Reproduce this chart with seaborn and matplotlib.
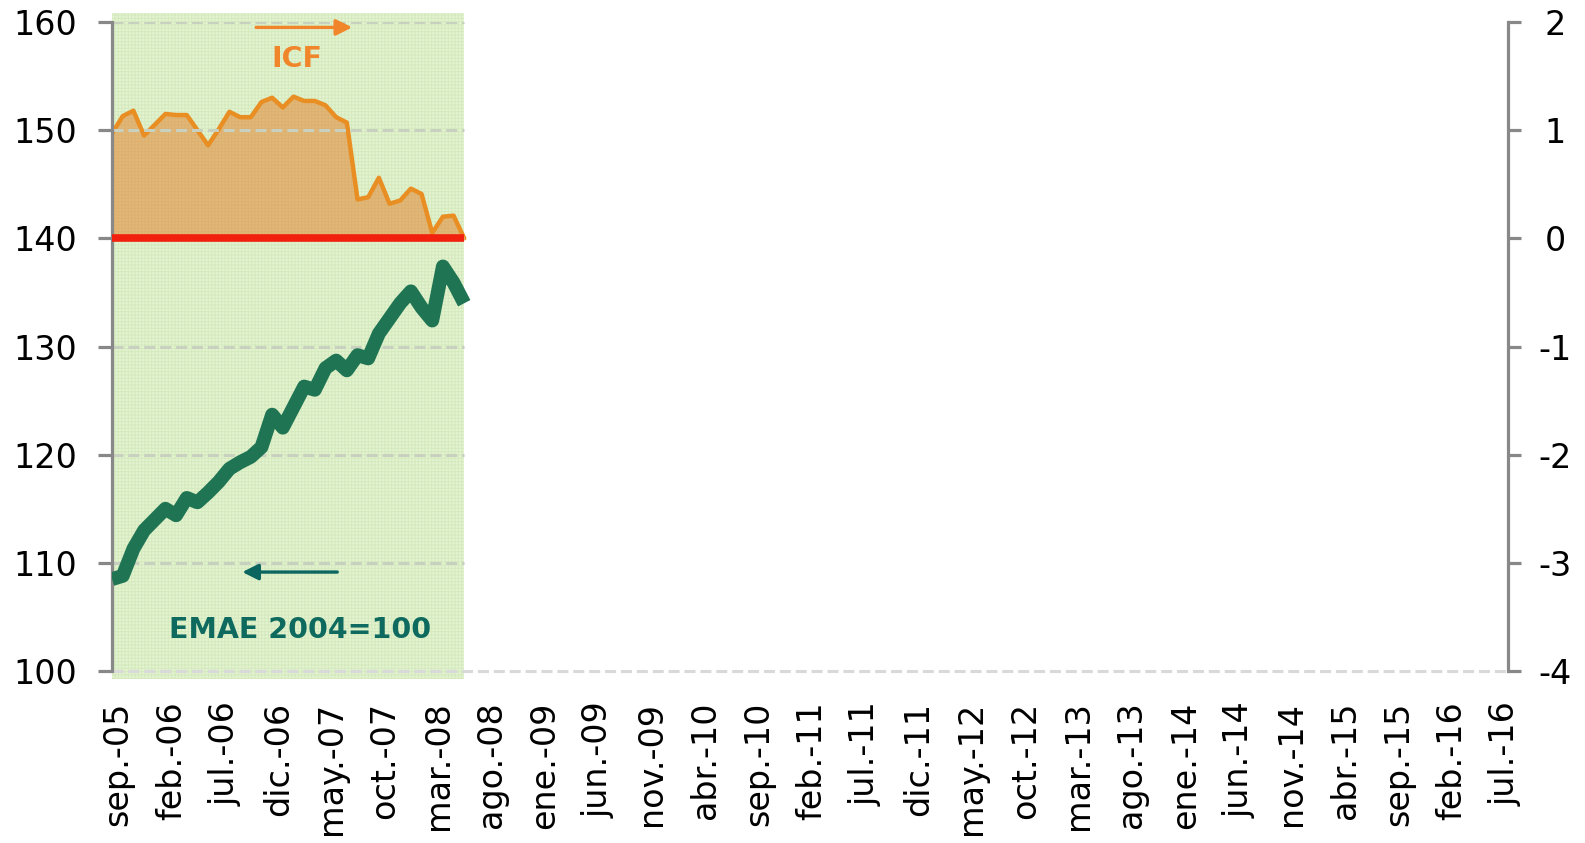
import matplotlib
matplotlib.use("Agg")
import matplotlib.pyplot as plt
import matplotlib.transforms as mtransforms
import seaborn as sns
import numpy as np
import pandas as pd

# ---- data ----
tick_labels = ["sep.-05", "feb.-06", "jul.-06", "dic.-06", "may.-07", "oct.-07",
               "mar.-08", "ago.-08", "ene.-09", "jun.-09", "nov.-09", "abr.-10",
               "sep.-10", "feb.-11", "jul.-11", "dic.-11", "may.-12", "oct.-12",
               "mar.-13", "ago.-13", "ene.-14", "jun.-14", "nov.-14", "abr.-15",
               "sep.-15", "feb.-16", "jul.-16"]
n_months = 131          # sep-05 ... jul-16, monthly categories
label_step = 5

emae = [108.5, 108.8, 111.3, 113.0, 114.0, 115.0, 114.4, 116.0, 115.6, 116.5,
        117.5, 118.7, 119.3, 119.8, 120.7, 123.7, 122.5, 124.4, 126.3, 126.0,
        128.0, 128.7, 127.8, 129.2, 128.9, 131.2, 132.6, 134.0, 135.1, 133.6,
        132.4, 137.4, 135.9, 134.0]
icf = [0.97, 1.13, 1.18, 0.95, 1.05, 1.15, 1.14, 1.14, 1.00, 0.86,
       1.01, 1.17, 1.12, 1.12, 1.26, 1.30, 1.21, 1.31, 1.27, 1.27,
       1.23, 1.12, 1.07, 0.36, 0.38, 0.56, 0.32, 0.35, 0.46, 0.41,
       0.05, 0.20, 0.21, 0.00]

left_ticks = [100, 110, 120, 130, 140, 150, 160]
right_ticks = [-4, -3, -2, -1, 0, 1, 2]

df = pd.DataFrame({"m": np.arange(len(emae)), "emae": emae, "icf": icf})
n_obs = len(emae) - 1

# ---- style ----
sns.set_theme(style="white")
plt.rcParams["font.family"] = ["DejaVu Sans"]
plt.rcParams["hatch.linewidth"] = 0.7

GRAY = "#888888"
fig = plt.figure(figsize=(15.85, 8.43), dpi=100)
ax = fig.add_axes([0.0707, 0.204, 0.8807, 0.7699])
ax2 = ax.twinx()
ax.set_zorder(ax2.get_zorder() + 1)
ax.patch.set_visible(False)

ax.set_xlim(0, n_months - 0.2)
ax.set_ylim(left_ticks[0], left_ticks[-1])
ax2.set_ylim(right_ticks[0], right_ticks[-1])

# shaded period (on the lower axes)
ax2.axvspan(0, n_obs, ymin=-0.012, ymax=1.014, facecolor="#e4f3d2",
            edgecolor="#d4eabd", hatch="+++++", lw=0, zorder=0, clip_on=False)

# ICF area (right axis)
ax2.fill_between(df["m"], 0, df["icf"], facecolor="#e2b877", edgecolor="#dcb070",
                 hatch="+++++", lw=0, zorder=1)
sns.lineplot(data=df, x="m", y="icf", ax=ax2, color="#e98e22", lw=3.2, zorder=2)

# gridlines
ax2.hlines(right_ticks[1:], 0, n_obs, colors="#c8d0bf",
           linestyles=(0, (3.6, 1.6)), lw=2.2, zorder=3)
ax2.axhline(right_ticks[0], color="#d9d9d9", ls=(0, (3.6, 1.6)), lw=2.2,
            zorder=3, clip_on=False)

# red zero line
ax.hlines(140, 0, n_obs, colors="#f2200e", lw=5.5, zorder=3)

# EMAE line (left axis)
sns.lineplot(data=df, x="m", y="emae", ax=ax, color="#1f7553", lw=10,
             zorder=4, solid_capstyle="butt", solid_joinstyle="round")

# annotations
ax.annotate("", xy=(22.5, 159.5), xytext=(13.5, 159.5),
            arrowprops=dict(arrowstyle="-|>", lw=2.4, color="#f0852a",
                            mutation_scale=24, shrinkA=0, shrinkB=0))
ax.text(17.3, 156.6, "ICF", color="#f0852a", fontsize=20.5, fontweight="bold",
        ha="center", va="center")
ax.annotate("", xy=(12.2, 109.15), xytext=(21.1, 109.15),
            arrowprops=dict(arrowstyle="-|>", lw=2.4, color="#0b6660",
                            mutation_scale=24, shrinkA=0, shrinkB=0))
ax.text(17.6, 103.8, "EMAE 2004=100", color="#0e6a5e", fontsize=20.5,
        fontweight="bold", ha="center", va="center")

# axes / ticks
for a in (ax, ax2):
    for s in ("top", "bottom"):
        a.spines[s].set_visible(False)
    a.set_xlabel("")
    a.set_ylabel("")
ax.spines["right"].set_visible(False)
ax2.spines["left"].set_visible(False)
ax.spines["left"].set_color(GRAY)
ax.spines["left"].set_linewidth(2.3)
ax2.spines["right"].set_color(GRAY)
ax2.spines["right"].set_linewidth(2.3)

ax.set_yticks(left_ticks)
ax.set_yticklabels([str(v) for v in left_ticks])
ax2.set_yticks(right_ticks)
ax2.set_yticklabels([str(v) for v in right_ticks])
ax.tick_params(axis="y", left=True, direction="out", length=10, width=2.3,
               color=GRAY, pad=15, labelsize=24, labelcolor="black")
ax2.tick_params(axis="y", right=True, direction="out", length=9, width=2.3,
                color=GRAY, pad=25, labelsize=24, labelcolor="black")
for lab in ax2.get_yticklabels():
    lab.set_horizontalalignment("center")

ax.set_xticks(np.arange(0, n_months, label_step))
ax.set_xticklabels(tick_labels, rotation=90)
ax.tick_params(axis="x", bottom=True, length=0, pad=22, labelsize=24,
               labelcolor="black")
shift = mtransforms.ScaledTranslation(6 / 100, 0, fig.dpi_scale_trans)
for lab in ax.get_xticklabels():
    lab.set_transform(lab.get_transform() + shift)
ax.grid(False)
ax2.grid(False)

fig.savefig("out.png", dpi=100)
